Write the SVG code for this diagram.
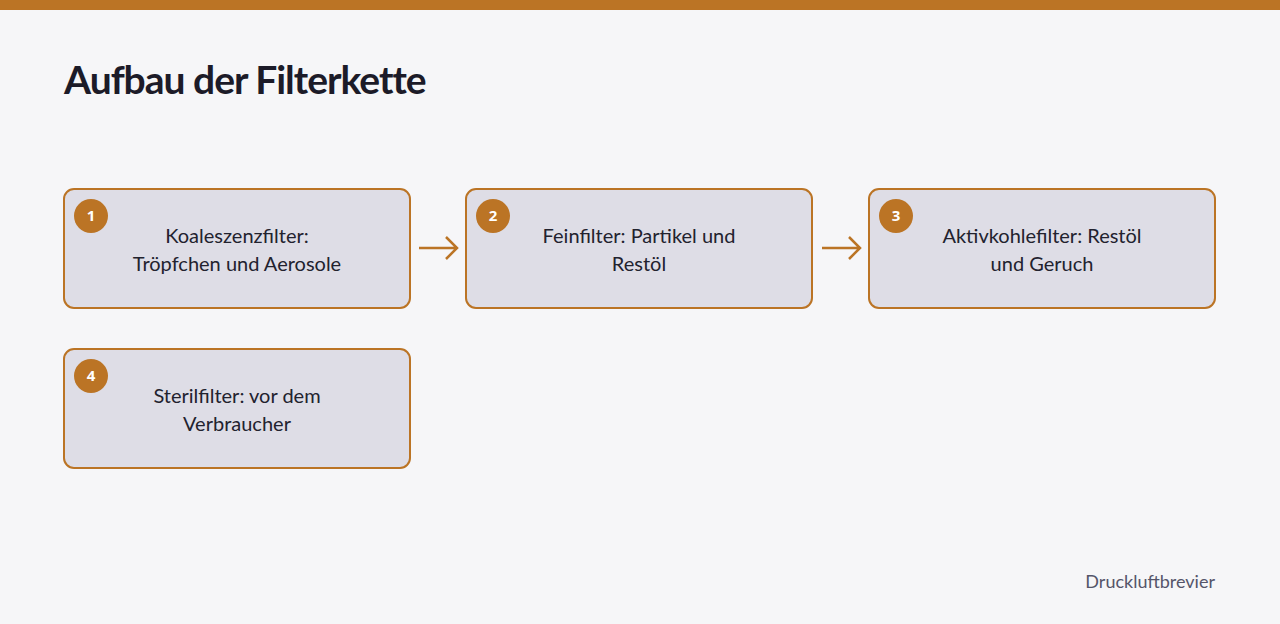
<svg xmlns="http://www.w3.org/2000/svg" width="1280" height="624" viewBox="0 0 1280 624">
<style>
.box{fill:#dedde6;stroke:#bb7425;stroke-width:2}
.badge{fill:#bb7425}
.num{font-family:"Open Sans",sans-serif;font-size:15px;font-weight:bold;fill:#fff;text-anchor:middle}
.lbl{font-family:"Lato","Noto Sans",sans-serif;font-size:20px;fill:#22222e;text-anchor:middle}
.conn{stroke:#bb7425;stroke-width:2.5;fill:none}
</style>
<rect width="1280" height="624" fill="#f6f6f8"/>
<rect width="1280" height="10" fill="#bb7425"/>
<text x="64" y="94" font-family="Lato,'Noto Sans',sans-serif" font-size="39" font-weight="bold" fill="#1c1b28" letter-spacing="-1">Aufbau der Filterkette</text>
<g id="n1"><rect class="box" x="64" y="189" width="346" height="119" rx="10"/><circle class="badge" cx="91" cy="216" r="17"/><text class="num" x="91" y="221">1</text><text class="lbl" x="237" y="243">Koaleszenzfilter:</text><text class="lbl" x="237" y="271">Tröpfchen und Aerosole</text></g>
<g id="n2"><rect class="box" x="466" y="189" width="346" height="119" rx="10"/><circle class="badge" cx="493" cy="216" r="17"/><text class="num" x="493" y="221">2</text><text class="lbl" x="639" y="243">Feinfilter: Partikel und</text><text class="lbl" x="639" y="271">Restöl</text></g>
<g id="n3"><rect class="box" x="869" y="189" width="346" height="119" rx="10"/><circle class="badge" cx="896" cy="216" r="17"/><text class="num" x="896" y="221">3</text><text class="lbl" x="1042" y="243">Aktivkohlefilter: Restöl</text><text class="lbl" x="1042" y="271">und Geruch</text></g>
<g id="n4"><rect class="box" x="64" y="349" width="346" height="119" rx="10"/><circle class="badge" cx="91" cy="376" r="17"/><text class="num" x="91" y="381">4</text><text class="lbl" x="237" y="403">Sterilfilter: vor dem</text><text class="lbl" x="237" y="431">Verbraucher</text></g>
<g id="connectors">
<path class="conn" d="M419 248H457M446 237L457 248L446 259"/>
<path class="conn" d="M822 248H860M849 237L860 248L849 259"/>
</g>
<text x="1215" y="588" text-anchor="end" font-family="Lato,'Noto Sans',sans-serif" font-size="18" fill="#55556a">Druckluftbrevier</text>
</svg>
